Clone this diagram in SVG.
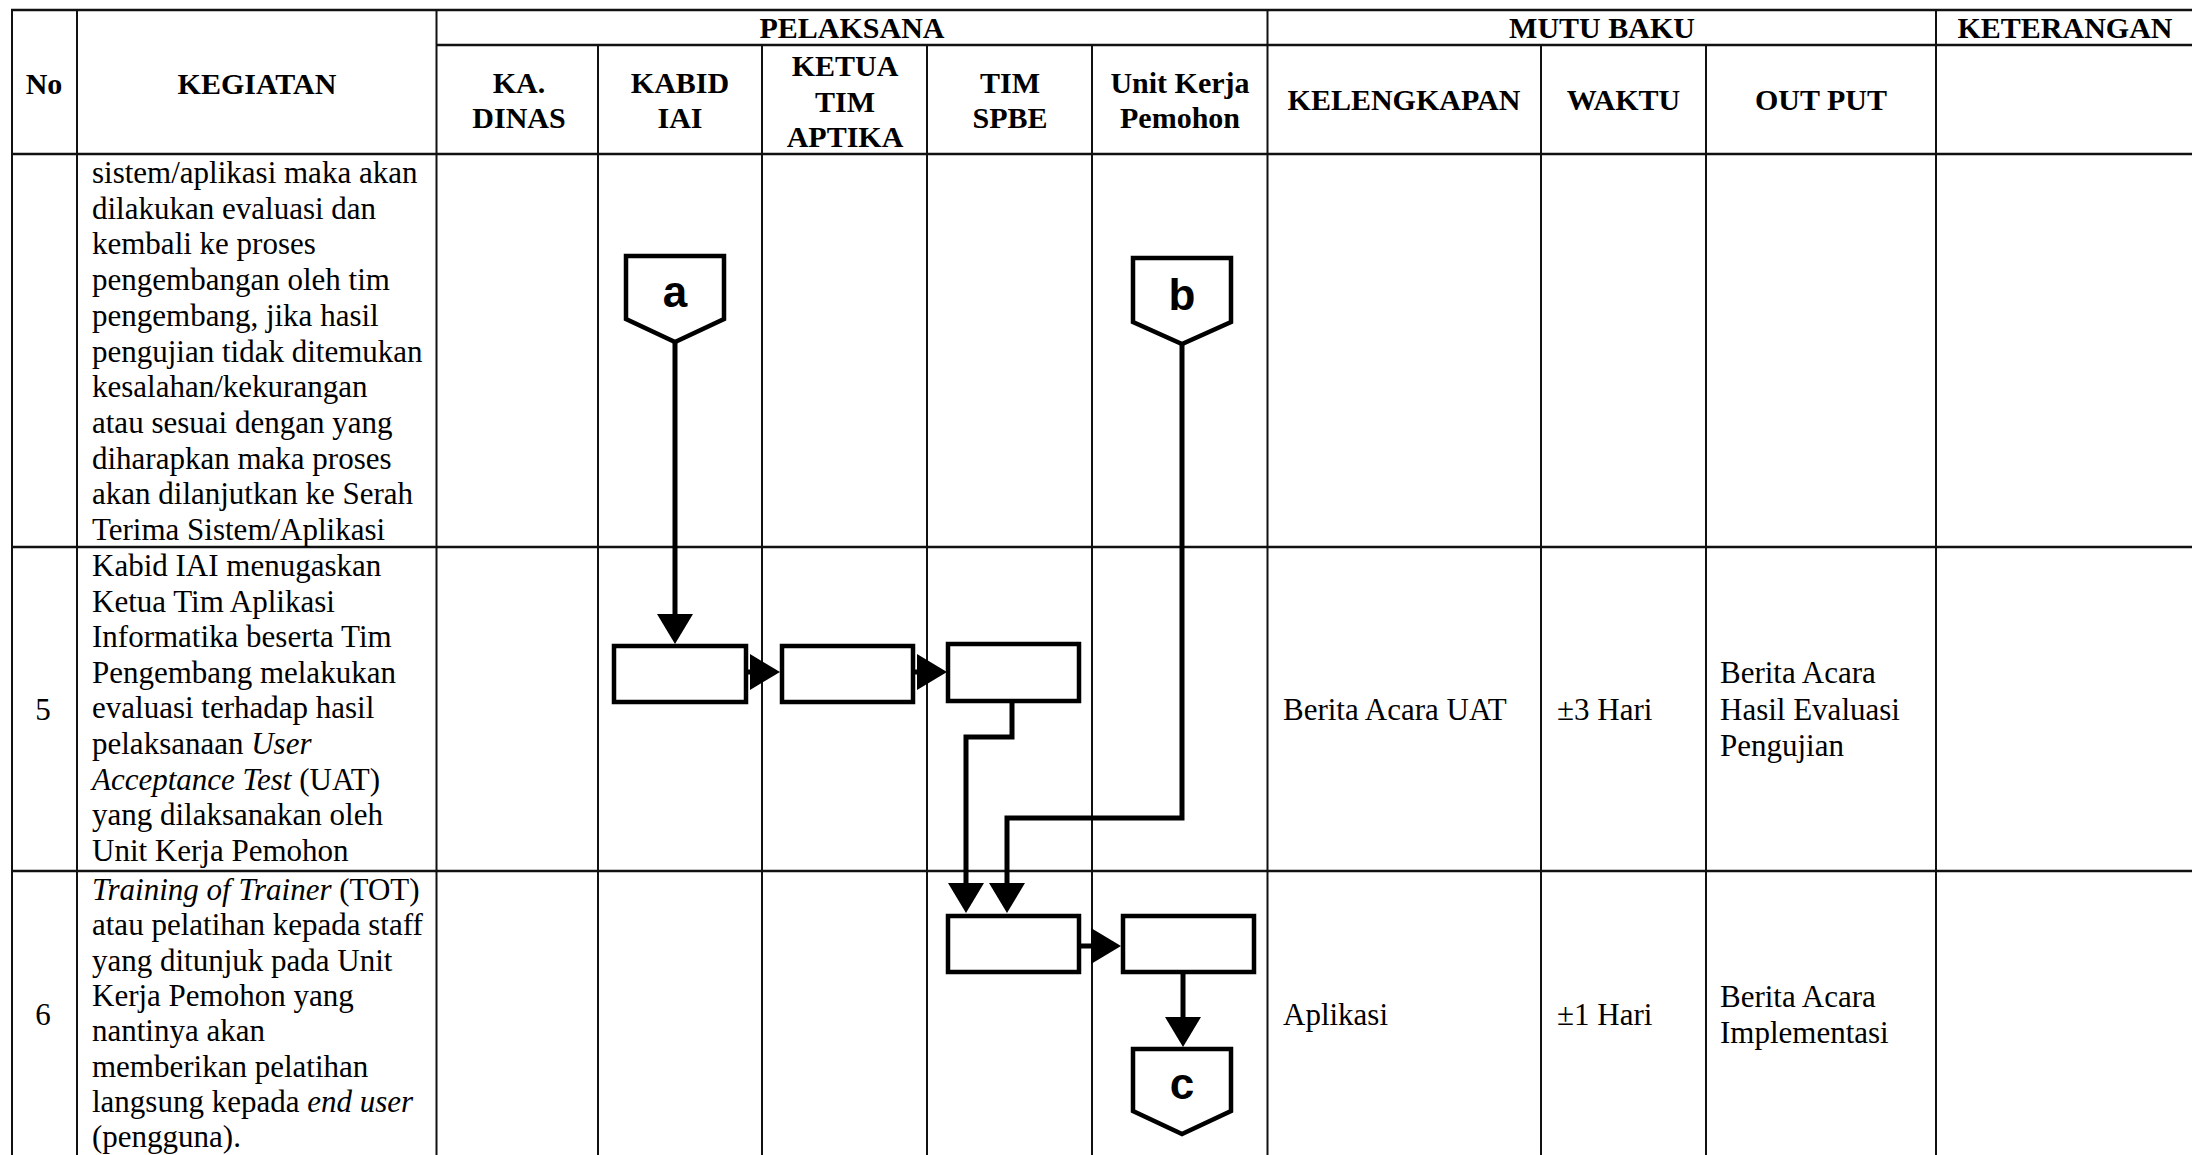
<svg xmlns="http://www.w3.org/2000/svg" width="2192" height="1155" viewBox="0 0 2192 1155">
<style>
.grid line{stroke:#111;stroke-width:2}
.grid line.h{stroke-width:2.6}
.hd{font-family:"Liberation Serif","Times New Roman",serif;font-weight:bold;font-size:30px;fill:#000;text-anchor:middle}
.tx{font-family:"Liberation Serif","Times New Roman",serif;font-size:31px;fill:#000}
.it{font-style:italic}
.box{fill:#fff;stroke:#000;stroke-width:4.5}
.off{fill:#fff;stroke:#000;stroke-width:4.5;stroke-linejoin:miter}
.lbl{font-family:"Liberation Sans",Arial,sans-serif;font-weight:bold;font-size:44px;fill:#000;text-anchor:middle}
.con{fill:none;stroke:#000;stroke-width:5;stroke-linejoin:miter}
</style>
<defs>
<marker id="ah" markerUnits="userSpaceOnUse" viewBox="0 0 30 36" markerWidth="30" markerHeight="36" refX="0" refY="18" orient="auto">
<path d="M0,0 L30,18 L0,36 Z" fill="#000"/>
</marker>
</defs>
<rect width="2192" height="1155" fill="#fff"/>
<g id="table" class="grid">
<line class="h" x1="11" y1="10" x2="2192" y2="10"/>
<line class="h" x1="436" y1="45" x2="2192" y2="45"/>
<line class="h" x1="11" y1="154" x2="2192" y2="154"/>
<line class="h" x1="11" y1="547" x2="2192" y2="547"/>
<line class="h" x1="11" y1="871" x2="2192" y2="871"/>
<line x1="12" y1="9" x2="12" y2="1155"/>
<line x1="77" y1="9" x2="77" y2="1155"/>
<line x1="436.5" y1="9" x2="436.5" y2="1155"/>
<line x1="598" y1="45" x2="598" y2="1155"/>
<line x1="762" y1="45" x2="762" y2="1155"/>
<line x1="927" y1="45" x2="927" y2="1155"/>
<line x1="1092" y1="45" x2="1092" y2="1155"/>
<line x1="1267.5" y1="9" x2="1267.5" y2="1155"/>
<line x1="1541" y1="45" x2="1541" y2="1155"/>
<line x1="1706" y1="45" x2="1706" y2="1155"/>
<line x1="1936" y1="9" x2="1936" y2="1155"/>
</g>
<g id="header">
<text class="hd" x="44" y="94">No</text>
<text class="hd" x="257" y="94">KEGIATAN</text>
<text class="hd" x="852" y="38">PELAKSANA</text>
<text class="hd" x="1602" y="38">MUTU BAKU</text>
<text class="hd" x="2065" y="38">KETERANGAN</text>
<text class="hd" x="519" y="93">KA.</text>
<text class="hd" x="519" y="128">DINAS</text>
<text class="hd" x="680" y="93">KABID</text>
<text class="hd" x="680" y="128">IAI</text>
<text class="hd" x="845" y="76">KETUA</text>
<text class="hd" x="845" y="111.5">TIM</text>
<text class="hd" x="845" y="147">APTIKA</text>
<text class="hd" x="1010" y="93">TIM</text>
<text class="hd" x="1010" y="128">SPBE</text>
<text class="hd" x="1180" y="93">Unit Kerja</text>
<text class="hd" x="1180" y="128">Pemohon</text>
<text class="hd" x="1404" y="110">KELENGKAPAN</text>
<text class="hd" x="1623.5" y="110">WAKTU</text>
<text class="hd" x="1821" y="110">OUT PUT</text>
</g>
<g id="row4">
<text class="tx" x="92" y="183">sistem/aplikasi maka akan</text>
<text class="tx" x="92" y="218.7">dilakukan evaluasi dan</text>
<text class="tx" x="92" y="254.4">kembali ke proses</text>
<text class="tx" x="92" y="290.1">pengembangan oleh tim</text>
<text class="tx" x="92" y="325.8">pengembang, jika hasil</text>
<text class="tx" x="92" y="361.5">pengujian tidak ditemukan</text>
<text class="tx" x="92" y="397.2">kesalahan/kekurangan</text>
<text class="tx" x="92" y="432.9">atau sesuai dengan yang</text>
<text class="tx" x="92" y="468.6">diharapkan maka proses</text>
<text class="tx" x="92" y="504.3">akan dilanjutkan ke Serah</text>
<text class="tx" x="92" y="540">Terima Sistem/Aplikasi</text>
</g>
<g id="row5">
<text class="tx" x="43" y="720" text-anchor="middle">5</text>
<text class="tx" x="92" y="576">Kabid IAI menugaskan</text>
<text class="tx" x="92" y="611.6">Ketua Tim Aplikasi</text>
<text class="tx" x="92" y="647.2">Informatika beserta Tim</text>
<text class="tx" x="92" y="682.8">Pengembang melakukan</text>
<text class="tx" x="92" y="718.4">evaluasi terhadap hasil</text>
<text class="tx" x="92" y="754">pelaksanaan <tspan class="it">User</tspan></text>
<text class="tx" x="92" y="789.6"><tspan class="it">Acceptance Test</tspan> (UAT)</text>
<text class="tx" x="92" y="825.2">yang dilaksanakan oleh</text>
<text class="tx" x="92" y="861">Unit Kerja Pemohon</text>
<text class="tx" x="1283" y="720">Berita Acara UAT</text>
<text class="tx" x="1557" y="720">±3 Hari</text>
<text class="tx" x="1720" y="683">Berita Acara</text>
<text class="tx" x="1720" y="720">Hasil Evaluasi</text>
<text class="tx" x="1720" y="756">Pengujian</text>
</g>
<g id="row6">
<text class="tx" x="43" y="1025" text-anchor="middle">6</text>
<text class="tx" x="92" y="900"><tspan class="it">Training of Trainer</tspan> (TOT)</text>
<text class="tx" x="92" y="935.3">atau pelatihan kepada staff</text>
<text class="tx" x="92" y="970.6">yang ditunjuk pada Unit</text>
<text class="tx" x="92" y="1005.9">Kerja Pemohon yang</text>
<text class="tx" x="92" y="1041.2">nantinya akan</text>
<text class="tx" x="92" y="1076.5">memberikan pelatihan</text>
<text class="tx" x="92" y="1111.8">langsung kepada <tspan class="it">end user</tspan></text>
<text class="tx" x="92" y="1147">(pengguna).</text>
<text class="tx" x="1283" y="1025">Aplikasi</text>
<text class="tx" x="1557" y="1025">±1 Hari</text>
<text class="tx" x="1720" y="1007">Berita Acara</text>
<text class="tx" x="1720" y="1043">Implementasi</text>
</g>
<g id="connectors">
<path class="con" d="M675,342 V614" marker-end="url(#ah)"/>
<path class="con" d="M746,672 H750" marker-end="url(#ah)"/>
<path class="con" d="M913,672 H917" marker-end="url(#ah)"/>
<path class="con" d="M1012,701 V737 H966 V883" marker-end="url(#ah)"/>
<path class="con" d="M1182,344 V818 H1007 V883" marker-end="url(#ah)"/>
<path class="con" d="M1079,946 H1091" marker-end="url(#ah)"/>
<path class="con" d="M1183,972 V1017" marker-end="url(#ah)"/>
</g>
<g id="node-a"><polygon class="off" points="626,256 724,256 724,319 675,342 626,319"/><text class="lbl" x="675" y="307">a</text></g>
<g id="node-b"><polygon class="off" points="1133,258 1231,258 1231,322 1182,344 1133,322"/><text class="lbl" x="1182" y="310">b</text></g>
<g id="node-c"><polygon class="off" points="1133,1049 1231,1049 1231,1111 1182,1134 1133,1111"/><text class="lbl" x="1182" y="1099">c</text></g>
<g id="box-kabid"><rect class="box" x="614" y="646" width="132" height="56"/></g>
<g id="box-ketua"><rect class="box" x="782" y="646" width="131" height="56"/></g>
<g id="box-spbe-1"><rect class="box" x="948" y="644" width="131" height="57"/></g>
<g id="box-spbe-2"><rect class="box" x="948" y="916" width="131" height="56"/></g>
<g id="box-unit"><rect class="box" x="1123" y="916" width="131" height="56"/></g>
</svg>
